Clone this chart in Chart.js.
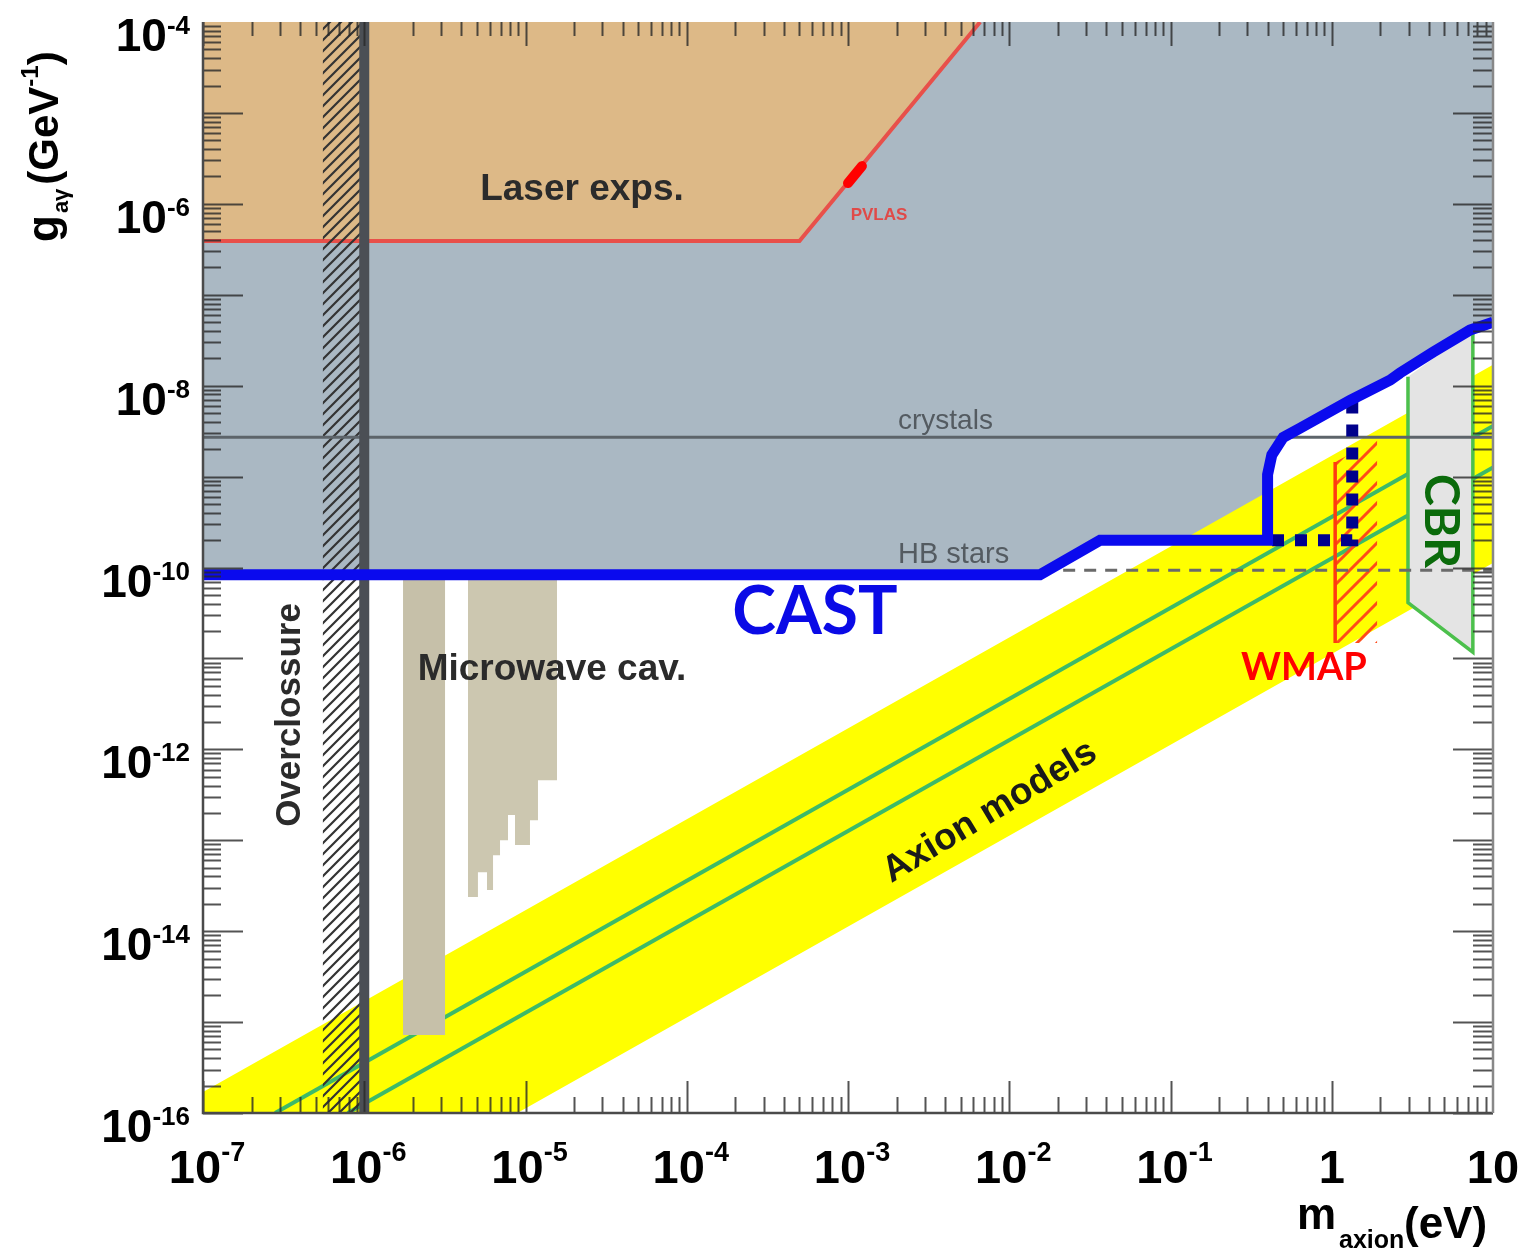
<!DOCTYPE html>
<html>
<head>
<meta charset="utf-8">
<script src="https://cdn.jsdelivr.net/npm/chart.js@4.4.0/dist/chart.umd.min.js"></script>
<style>
  html, body { margin: 0; padding: 0; background: #fff; }
  canvas { display: block; }
</style>
</head>
<body>
<canvas id="myChart" width="1525" height="1257"></canvas>
<script>
// axis ranges and ticks
var massRange = [1e-7, 10];
var couplingRange = [1e-16, 1e-4];
var xTickValues = [1e-7, 1e-6, 1e-5, 1e-4, 1e-3, 1e-2, 1e-1, 1, 10];
var xTickLabels = ["10^-7", "10^-6", "10^-5", "10^-4", "10^-3", "10^-2", "10^-1", "1", "10"];
var yTickValues = [1e-4, 1e-6, 1e-8, 1e-10, 1e-12, 1e-14, 1e-16];
var yTickLabels = ["10^-4", "10^-6", "10^-8", "10^-10", "10^-12", "10^-14", "10^-16"];

// CAST limit (excluded region above it)
var castMass     = [1e-7, 1.55e-2, 3.66e-2, 0.40, 0.40, 0.425, 0.50, 0.635, 1.30, 2.30, 2.65, 4.25, 7.2, 10];
var castCoupling = [8.3e-11, 8.3e-11, 2.0e-10, 2.0e-10, 1.05e-9, 1.73e-9, 2.7e-9, 3.4e-9, 6.9e-9, 1.15e-8, 1.38e-8, 2.34e-8, 4.1e-8, 5.0e-8];
// CAST dotted (projected)
var castProjMass     = [0.426, 1.34, 1.34];
var castProjCoupling = [2.0e-10, 2.0e-10, 7.5e-9];

// laser experiments
var laserMass     = [1e-7, 5.0e-4, 6.6e-3];
var laserCoupling = [3.9e-7, 3.9e-7, 1e-4];
var pvlasMass     = [1.0e-3, 1.22e-3];
var pvlasCoupling = [1.69e-6, 2.6e-6];

// horizontal limits
var crystalsMass     = [1e-7, 10];
var crystalsCoupling = [2.7e-9, 2.7e-9];
var hbMass     = [1.6e-2, 10];
var hbCoupling = [9.3e-11, 9.3e-11];

// overclosure
var overMass     = [5.54e-7, 9.4e-7, 9.4e-7, 5.54e-7];
var overCoupling = [1e-4, 1e-4, 1e-16, 1e-16];
var overLineMass     = [1e-6, 1e-6];
var overLineCoupling = [1e-16, 1e-4];

// microwave cavities
var cav1Mass     = [1.74e-6, 3.17e-6, 3.17e-6, 1.74e-6];
var cav1Coupling = [8.3e-11, 8.3e-11, 7.2e-16, 7.2e-16];
var cav2Mass     = [4.40e-6, 1.568e-5, 1.568e-5, 1.195e-5, 1.195e-5, 1.066e-5, 1.066e-5, 8.61e-6, 8.61e-6, 7.79e-6, 7.79e-6, 6.95e-6, 6.95e-6, 6.29e-6, 6.29e-6, 5.77e-6, 5.77e-6, 5.07e-6, 5.07e-6, 4.40e-6];
var cav2Coupling = [8.3e-11, 8.3e-11, 4.58e-13, 4.58e-13, 1.66e-13, 1.66e-13, 8.84e-14, 8.84e-14, 1.89e-13, 1.89e-13, 1.0e-13, 1.0e-13, 6.86e-14, 6.86e-14, 2.83e-14, 2.83e-14, 4.46e-14, 4.46e-14, 2.37e-14, 2.37e-14];

// axion models band and lines
var bandMass     = [1e-7, 10, 10, 8.9e-6, 1e-7];
var bandCoupling = [1.7e-16, 1.7e-8, 1.12e-10, 1e-16, 1e-16];
var modelAMass     = [2.8e-7, 10];
var modelACoupling = [1e-16, 3.6e-9];
var modelBMass     = [7.9e-7, 10];
var modelBCoupling = [1e-16, 1.26e-9];

// WMAP and CBR
var wmapMass     = [1.05, 1.91, 1.91, 1.05];
var wmapCoupling = [1.45e-9, 2.52e-9, 1.48e-11, 1.48e-11];
var wmapEdgeMass     = [1.05, 1.05];
var wmapEdgeCoupling = [1.45e-9, 1.48e-11];
var cbrMass     = [2.97, 2.97, 7.5, 7.5];
var cbrCoupling = [1.25e-8, 4.1e-11, 1.17e-11, 4.1e-8];

var SANS = '"Liberation Sans", Arial, sans-serif';
var LATO = 'Lato, "Open Sans", sans-serif';

function pts(xs, ys) {
  return xs.map(function (x, i) { return {x: x, y: ys[i]}; });
}

var canvas = document.getElementById('myChart');
var ctx0 = canvas.getContext('2d');

function hatch(color, size, width) {
  var c = document.createElement('canvas');
  c.width = size; c.height = size;
  var g = c.getContext('2d');
  g.strokeStyle = color;
  g.lineWidth = width;
  g.beginPath();
  g.moveTo(0, size); g.lineTo(size, 0);
  g.moveTo(-size / 2, size / 2); g.lineTo(size / 2, -size / 2);
  g.moveTo(size / 2, size * 1.5); g.lineTo(size * 1.5, size / 2);
  g.stroke();
  return ctx0.createPattern(c, 'repeat');
}

function drawPower(ctx, label, x, y, align, size, expSize, rise) {
  var parts = label.split('^');
  var base = parts[0], exp = parts[1] || '';
  ctx.font = 'bold ' + size + 'px ' + SANS;
  var wb = ctx.measureText(base).width;
  ctx.font = 'bold ' + expSize + 'px ' + SANS;
  var we = exp ? ctx.measureText(exp).width : 0;
  var total = wb + we;
  var left = align === 'right' ? x - total : (align === 'center' ? x - total / 2 : x);
  ctx.textAlign = 'left';
  ctx.textBaseline = 'alphabetic';
  ctx.font = 'bold ' + size + 'px ' + SANS;
  ctx.fillText(base, left, y);
  if (exp) {
    ctx.font = 'bold ' + expSize + 'px ' + SANS;
    ctx.fillText(exp, left + wb, y - rise);
  }
}

function text(ctx, str, x, y, font, color, angle, align) {
  ctx.save();
  ctx.translate(x, y);
  ctx.rotate(angle || 0);
  ctx.font = font;
  ctx.fillStyle = color;
  ctx.textAlign = align || 'center';
  ctx.textBaseline = 'middle';
  ctx.fillText(str, 0, 0);
  ctx.restore();
}

var axisDecor = {
  id: 'axisDecor',
  afterDraw: function (chart) {
    var ctx = chart.ctx, a = chart.chartArea;
    var xs = chart.scales.x, ys = chart.scales.y;
    ctx.save();

    // ticks, pointing inward on all four sides
    ctx.strokeStyle = 'rgba(40,40,40,0.8)';
    ctx.lineWidth = 2;
    ctx.beginPath();
    for (var d = -7; d <= 0; d++) {
      for (var k = 1; k <= 9; k++) {
        var px = Math.round(xs.getPixelForValue(k * Math.pow(10, d))) + 0.5;
        var big = k === 1;
        ctx.moveTo(px, a.bottom); ctx.lineTo(px, a.bottom - (big ? 32 : 16));
        ctx.moveTo(px, a.top); ctx.lineTo(px, a.top + (big ? 24 : 14));
      }
    }
    for (var e = -16; e <= -5; e++) {
      for (var j = 1; j <= 9; j++) {
        var py = Math.round(ys.getPixelForValue(j * Math.pow(10, e))) + 0.5;
        var major = j === 1;
        ctx.moveTo(a.left, py); ctx.lineTo(a.left + (major ? 40 : 18), py);
        ctx.moveTo(a.right, py); ctx.lineTo(a.right - (major ? 40 : 20), py);
      }
    }
    ctx.stroke();

    // frame
    ctx.strokeStyle = '#4a4a4a';
    ctx.lineWidth = 2.5;
    ctx.beginPath();
    ctx.moveTo(a.left, a.top); ctx.lineTo(a.left, a.bottom); ctx.lineTo(a.right, a.bottom);
    ctx.stroke();
    ctx.strokeStyle = '#888';
    ctx.beginPath();
    ctx.moveTo(a.right, a.bottom); ctx.lineTo(a.right, a.top);
    ctx.stroke();

    // tick labels
    ctx.fillStyle = '#000';
    xTickValues.forEach(function (v, i) {
      drawPower(ctx, xTickLabels[i], xs.getPixelForValue(v) + (i < 7 ? 4 : 0), 1183, 'center', 47, 27, 22);
    });
    yTickValues.forEach(function (v, i) {
      drawPower(ctx, yTickLabels[i], 190, ys.getPixelForValue(v) + 29, 'right', 46, 26, 17);
    });

    // axis titles
    ctx.save();
    ctx.translate(58, 242);
    ctx.rotate(-Math.PI / 2);
    ctx.fillStyle = '#000';
    ctx.textAlign = 'left';
    ctx.textBaseline = 'alphabetic';
    var cx = 0;
    ctx.font = 'bold 44px ' + SANS; ctx.fillText('g', cx, 0); cx += ctx.measureText('g').width + 2;
    ctx.font = 'bold 22px ' + SANS; ctx.fillText('a\u03b3', cx, 10); cx += ctx.measureText('a\u03b3').width + 4;
    ctx.font = 'bold 42px ' + SANS; ctx.fillText('(GeV', cx, 0); cx += ctx.measureText('(GeV').width;
    ctx.font = 'bold 24px ' + SANS; ctx.fillText('-1', cx, -20); cx += ctx.measureText('-1').width;
    ctx.font = 'bold 42px ' + SANS; ctx.fillText(')', cx, 0);
    ctx.restore();

    ctx.textAlign = 'left';
    ctx.textBaseline = 'alphabetic';
    ctx.fillStyle = '#000';
    ctx.font = 'bold 44px ' + SANS; ctx.fillText('m', 1297, 1229);
    ctx.font = 'bold 25px ' + SANS; ctx.fillText('axion', 1339, 1248);
    ctx.font = 'bold 44px ' + SANS; ctx.fillText('(eV)', 1404, 1238);

    // annotations
    text(ctx, 'Laser exps.', 582, 190, 'bold 37px ' + SANS, '#2b2b2b');
    text(ctx, 'PVLAS', 879, 215, 'bold 17px ' + SANS, '#e04a48');
    text(ctx, 'crystals', 898, 421, '28px ' + SANS, '#545b61', 0, 'left');
    text(ctx, 'HB stars', 898, 555, '29px ' + SANS, '#545b61', 0, 'left');
    text(ctx, 'Microwave cav.', 552, 670, 'bold 37px ' + SANS, '#2b2b2b');
    text(ctx, 'Overclossure', 290, 715, 'bold 35px ' + SANS, '#2b2b2b', -Math.PI / 2);
    text(ctx, 'Axion models', 990, 812, 'bold 37px ' + SANS, '#1a1a1a', -31 * Math.PI / 180);
    text(ctx, 'CAST', 815, 613, 'bold 66px ' + LATO, '#0a0ae6');
    text(ctx, 'WMAP', 1304, 668, 'bold 38px ' + LATO, '#ff0000');
    text(ctx, 'CBR', 1440, 521, 'bold 48px ' + LATO, '#0b6b0b', Math.PI / 2);

    ctx.restore();
  }
};

new Chart(canvas, {
  type: 'scatter',
  data: {
    datasets: [
      { data: pts(castMass, castCoupling), showLine: true, borderColor: '#0a0aee', borderWidth: 11, fill: false, order: 1 },
      { data: pts(castProjMass, castProjCoupling), showLine: true, borderColor: '#00008c', borderWidth: 12, borderDash: [12, 11], fill: false, order: 2 },
      { data: pts(pvlasMass, pvlasCoupling), showLine: true, borderColor: '#ff0000', borderWidth: 10, borderCapStyle: 'round', fill: false, order: 3 },
      { data: pts(overLineMass, overLineCoupling), showLine: true, borderColor: '#4b4f55', borderWidth: 10, fill: false, order: 4 },
      { data: pts(hbMass, hbCoupling), showLine: true, borderColor: '#6a6a6a', borderWidth: 3, borderDash: [12, 9], fill: false, order: 5 },
      { data: pts(crystalsMass, crystalsCoupling), showLine: true, borderColor: '#5d646a', borderWidth: 3, fill: false, order: 6 },
      { data: pts(cbrMass, cbrCoupling), showLine: true, borderColor: '#4cc04c', borderWidth: 3.5, backgroundColor: '#e4e4e4', fill: 'shape', order: 7 },
      { data: pts(wmapEdgeMass, wmapEdgeCoupling), showLine: true, borderColor: '#ff3a10', borderWidth: 3.5, fill: false, order: 8 },
      { data: pts(wmapMass, wmapCoupling), showLine: true, borderWidth: 0, borderColor: 'transparent', backgroundColor: hatch('#ff4a1a', 20, 3), fill: 'shape', order: 9 },
      { data: pts(overMass, overCoupling), showLine: true, borderWidth: 0, borderColor: 'transparent', backgroundColor: hatch('#333333', 11, 2.2), fill: 'shape', order: 10 },
      { data: pts(cav1Mass, cav1Coupling), showLine: true, borderWidth: 0, borderColor: 'transparent', backgroundColor: '#c6c0a9', fill: 'shape', order: 11 },
      { data: pts(cav2Mass, cav2Coupling), showLine: true, borderWidth: 0, borderColor: 'transparent', backgroundColor: '#ccc7b0', fill: 'shape', order: 12 },
      { data: pts(modelAMass, modelACoupling), showLine: true, borderColor: '#3dba68', borderWidth: 4, fill: false, order: 13 },
      { data: pts(modelBMass, modelBCoupling), showLine: true, borderColor: '#3dba68', borderWidth: 4, fill: false, order: 14 },
      { data: pts(bandMass, bandCoupling), showLine: true, borderWidth: 0, borderColor: 'transparent', backgroundColor: '#ffff00', fill: 'shape', order: 15 },
      { data: pts(laserMass, laserCoupling), showLine: true, borderColor: '#e8504a', borderWidth: 4, backgroundColor: '#ddb987', fill: 'end', order: 16 },
      { data: pts(castMass, castCoupling), showLine: true, borderWidth: 0, borderColor: 'transparent', backgroundColor: '#aab8c3', fill: 'end', order: 17 }
    ]
  },
  options: {
    responsive: false,
    animation: false,
    layout: { padding: { left: 203, right: 32, top: 22, bottom: 144 } },
    elements: { point: { radius: 0, hoverRadius: 0 }, line: { tension: 0 } },
    plugins: { legend: { display: false }, tooltip: { enabled: false } },
    scales: {
      x: { type: 'logarithmic', min: massRange[0], max: massRange[1], display: false },
      y: { type: 'logarithmic', min: couplingRange[0], max: couplingRange[1], display: false }
    }
  },
  plugins: [axisDecor]
});
</script>
</body>
</html>
